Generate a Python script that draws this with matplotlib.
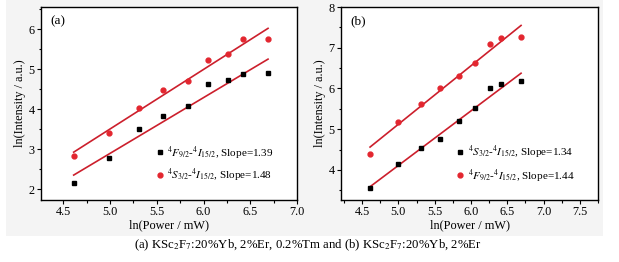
import numpy as np
import matplotlib
matplotlib.use('Agg')
import matplotlib.pyplot as plt
from matplotlib.patches import Rectangle
from matplotlib.ticker import MultipleLocator

plt.rcParams['font.family'] = ['Liberation Serif', 'DejaVu Serif']
plt.rcParams['mathtext.fontset'] = 'stix'
plt.rcParams['font.size'] = 9

# ln(Power / mW)
x_pow = [4.61, 4.99, 5.31, 5.57, 5.83, 6.05, 6.26, 6.42, 6.69]

# (a) KSc2F7:20%Yb, 2%Er, 0.2%Tm
a_black = [2.15, 2.77, 3.50, 3.82, 4.08, 4.62, 4.73, 4.87, 4.89]
a_red = [2.84, 3.40, 4.02, 4.48, 4.71, 5.23, 5.37, 5.75, 5.75]
a_labels = [r'$^{4}F_{9/2}$-$^{4}I_{15/2}$, Slope=1.39',
            r'$^{4}S_{3/2}$-$^{4}I_{15/2}$, Slope=1.48']

# (b) KSc2F7:20%Yb, 2%Er
b_black = [3.55, 4.15, 4.53, 4.76, 5.20, 5.53, 6.00, 6.10, 6.18]
b_red = [4.38, 5.17, 5.63, 6.02, 6.30, 6.63, 7.10, 7.25, 7.27]
b_labels = [r'$^{4}S_{3/2}$-$^{4}I_{15/2}$, Slope=1.34',
            r'$^{4}F_{9/2}$-$^{4}I_{15/2}$, Slope=1.44']

caption = r'(a) KSc$_2$F$_7$:20%Yb, 2%Er, 0.2%Tm and (b) KSc$_2$F$_7$:20%Yb, 2%Er'

red = '#e3262f'
line_red = '#cc1f2c'

fig = plt.figure(figsize=(6.19, 2.62), dpi=100)
fig.patch.set_facecolor('white')
# light grey backdrop behind the two panels
fig.patches.append(Rectangle((0.0097, 0.099), 0.9645, 0.901, transform=fig.transFigure,
                             facecolor='#f4f4f4', edgecolor='none', zorder=-5))

ax1 = fig.add_axes([0.0662, 0.2366, 0.4136, 0.7366])
ax2 = fig.add_axes([0.5509, 0.2366, 0.4152, 0.7366])


def draw(ax, yb, yr, labels, tag, xlim, ylim, xmaj):
    x = np.array(x_pow)
    for y in (yb, yr):
        k, b = np.polyfit(x, y, 1)
        ax.plot([x[0], x[-1]], [k * x[0] + b, k * x[-1] + b], color=line_red, lw=1.2, zorder=2)
    ax.plot(x, yb, 's', color='black', ms=3.0, ls='none', label=labels[0], zorder=3)
    ax.plot(x, yr, 'o', color=red, ms=3.5, ls='none', label=labels[1], zorder=3)
    ax.set_xlim(*xlim)
    ax.set_ylim(*ylim)
    ax.xaxis.set_major_locator(MultipleLocator(xmaj))
    ax.xaxis.set_minor_locator(MultipleLocator(xmaj / 2))
    ax.yaxis.set_major_locator(MultipleLocator(1))
    ax.yaxis.set_minor_locator(MultipleLocator(0.5))
    ax.tick_params(which='both', direction='out', top=False, right=False, width=0.8,
                   labelsize=8.8)
    ax.tick_params(which='major', length=3, pad=1.5)
    ax.tick_params(which='minor', length=1.8)
    for s in ax.spines.values():
        s.set_linewidth(1.0)
    ax.set_xlabel('ln(Power / mW)', labelpad=1, fontsize=8.8)
    ax.set_ylabel('ln(Intensity / a.u.)', labelpad=2, fontsize=8.8)
    ax.text(0.035, 0.955, tag, transform=ax.transAxes, va='top', ha='left', fontsize=9.5)
    ax.legend(loc='lower left', bbox_to_anchor=(0.42, 0.06), frameon=False,
              handletextpad=0.1, labelspacing=0.55, handlelength=1.2,
              borderaxespad=0, fontsize=8)


draw(ax1, a_black, a_red, a_labels, '(a)', (4.26, 7.0), (1.73, 6.55), 0.5)
draw(ax2, b_black, b_red, b_labels, '(b)', (4.21, 7.75), (3.26, 8.0), 0.5)

fig.text(0.498, 0.065, caption, ha='center', va='center', fontsize=9.2)

fig.savefig('out.png', dpi=100, facecolor=fig.get_facecolor())
